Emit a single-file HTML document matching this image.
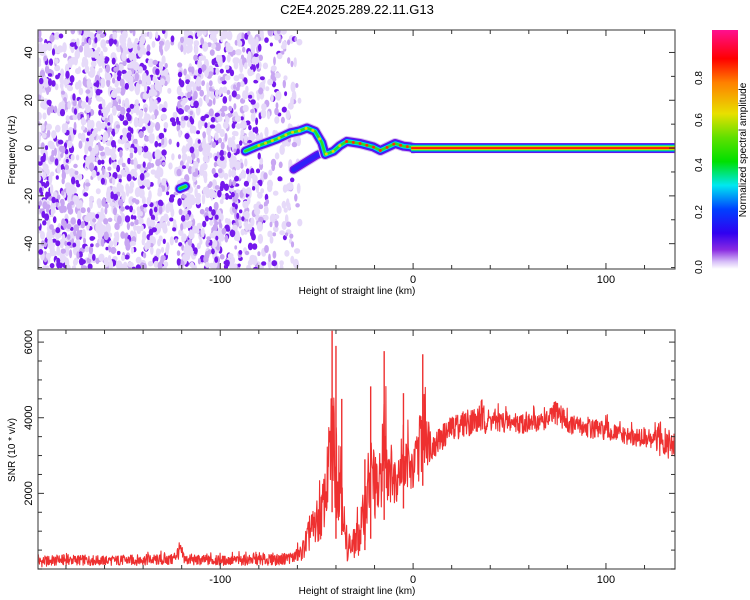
<!DOCTYPE html>
<html><head><meta charset="utf-8"><style>
html,body{margin:0;padding:0;background:#fff;}
svg{display:block;font-family:"Liberation Sans",sans-serif;}
</style></head><body>
<svg id="chart" width="750" height="600" viewBox="0 0 750 600">
<defs>
<linearGradient id="cbar" x1="0" y1="1" x2="0" y2="0">
<stop offset="0" stop-color="#ffffff"/><stop offset="0.03" stop-color="#d8c0f8"/><stop offset="0.08" stop-color="#8a2be2"/>
<stop offset="0.15" stop-color="#3000f0"/><stop offset="0.25" stop-color="#0040ff"/><stop offset="0.35" stop-color="#00e8f0"/>
<stop offset="0.45" stop-color="#00e000"/><stop offset="0.55" stop-color="#60e000"/><stop offset="0.65" stop-color="#e8e000"/>
<stop offset="0.78" stop-color="#ff8000"/><stop offset="0.88" stop-color="#ff0000"/><stop offset="1" stop-color="#ff1090"/>
</linearGradient>
<clipPath id="clipTop"><rect x="38" y="30" width="637" height="239"/></clipPath>
<clipPath id="clipBot"><rect x="38" y="330" width="637" height="239"/></clipPath>
</defs>
<text x="357" y="14" text-anchor="middle" font-size="13">C2E4.2025.289.22.11.G13</text>
<g id="topPanel"></g>
<g id="botPanel"></g>
<rect x="712" y="30" width="26" height="239" fill="url(#cbar)"/>
<g font-size="10" text-anchor="middle">
<text transform="translate(702,267) rotate(-90)">0.0</text>
<text transform="translate(702,212) rotate(-90)">0.2</text>
<text transform="translate(702,165) rotate(-90)">0.4</text>
<text transform="translate(702,120) rotate(-90)">0.6</text>
<text transform="translate(702,78) rotate(-90)">0.8</text>
</g>
<text transform="translate(746,150) rotate(-90)" text-anchor="middle" font-size="10">Normalized spectral amplitude</text>
</svg>
<script>
// ---- data ----
const xDomain = [-194.5, 135.8];
const freqDomain = [-50.6, 49.4];
const snrDomain = [0, 6320];
const xTicks = [-100, 0, 100];
const xTickLabels = ["-100", "0", "100"];
const freqTicks = [-40, -20, 0, 20, 40];
const freqTickLabels = ["-40", "-20", "0", "20", "40"];
const snrTicks = [2000, 4000, 6000];
const snrTickLabels = ["2000", "4000", "6000"];
const ridgeHeights = [-87, -81, -75, -70.6, -63.7, -59, -55, -50.8, -47.3, -45.6, -41.3, -38, -34.4, -27.5, -20.7, -17, -13, -9.3, -5, -1.5, 0, 135];
const ridgeFreqs   = [-1.3, 0.8, 2.5, 3.8, 6.4, 7.2, 8.4, 7, 2.2, -2.7, -1.3, 1, 2.8, 1.9, 0.5, -1, 0.5, 1.9, 0.8, 0.5, 0, 0];
const branchHeights = [-62, -56, -50, -46];
const branchFreqs = [-9, -6, -3, -1.5];
const blobHeights = [-121, -118];
const blobFreqs = [-17, -16];
const snrHeights = [-195,-180,-160,-140,-125,-121,-118,-100,-80,-70,-62,-58,-55,-52,-48,-45,-42,-40,-37,-35,-32,-28,-25,-22,-18,-15,-10,-5,0,5,10,15,20,30,40,50,60,70,75,80,90,100,110,120,125,130,135];
const snrLow  = [0,50,50,50,50,200,50,50,50,50,100,150,200,400,500,1000,1500,800,900,100,100,200,500,800,1000,1300,1500,1600,1800,2200,2800,3000,3300,3400,3500,3500,3500,3600,3700,3500,3400,3300,3200,3100,3000,2700,2900];
const snrHigh = [450,500,450,500,500,900,500,450,500,500,600,800,1500,2000,2500,3500,6300,5900,4500,1200,1200,1800,2900,4830,3200,5760,3400,4650,3500,5680,3900,4100,4300,4600,4500,4400,4300,4400,4800,4300,4200,4100,3900,3900,3900,4500,3600];

// ---- scales ----
const xs = h => 38 + (h - xDomain[0]) / (xDomain[1] - xDomain[0]) * 637;
const yf = f => 269 - (f - freqDomain[0]) / (freqDomain[1] - freqDomain[0]) * 239;
const ysn = v => 569 - (v - snrDomain[0]) / (snrDomain[1] - snrDomain[0]) * 239;
const NS = "http://www.w3.org/2000/svg";
function mk(tag, attrs, parent){const e=document.createElementNS(NS,tag);for(const k in attrs)e.setAttribute(k,attrs[k]);parent.appendChild(e);return e;}
function interp(xa, ya, x){for(let i=0;i<xa.length-1;i++){if(x>=xa[i]&&x<=xa[i+1]){const t=(x-xa[i])/(xa[i+1]-xa[i]);return ya[i]+t*(ya[i+1]-ya[i]);}}return ya[ya.length-1];}
function hash(n){const s=Math.sin(n*12.9898+78.233)*43758.5453;return s-Math.floor(s);}

const topG = document.getElementById('topPanel');
const botG = document.getElementById('botPanel');

// ---- noise background (texture) ----
const noise = mk('g',{'clip-path':'url(#clipTop)'},topG);


let seed = 12345;
function rnd(){seed=(seed*1103515245+12345)%2147483648;return seed/2147483648;}
for(let i=0;i<2700;i++){
  const x = 38 + rnd()*262;
  if (x>168 && x<178 && rnd()<0.8) continue;
  if (x>262 && rnd()<0.6) continue;
  const y = 30 + rnd()*239;
  const r = rnd();
  let col, rx, ry;
  if (r<0.5){col='#e6daf9';rx=1.6+rnd()*1.6;ry=2.5+rnd()*3;}
  else if(r<0.78){col='#c8a6f2';rx=1.4+rnd()*1.4;ry=2+rnd()*2.5;}
  else {col='#7418ec';rx=1.5+rnd()*1.3;ry=1.8+rnd()*2.2;}
  mk('ellipse',{cx:x.toFixed(1),cy:y.toFixed(1),rx:rx.toFixed(1),ry:ry.toFixed(1),fill:col},noise);
}

// ---- ridge ----
function pathFrom(hs, fs){return hs.map((h,i)=>(i?'L':'M')+xs(h).toFixed(1)+','+yf(fs[i]).toFixed(1)).join('');}
const ridge = mk('g',{'clip-path':'url(#clipTop)',fill:'none','stroke-linecap':'round','stroke-linejoin':'round'},topG);


const layers = [['#d6c0f6',11],['#6a10e8',9],['#1a30ff',6.5],['#00d8e8',4.5],['#30e020',2.5]];
const bp = pathFrom(branchHeights, branchFreqs);
[['#d6c0f6',10],['#6a10e8',8],['#3020f8',5]].forEach(([c,w])=>mk('path',{d:bp,stroke:c,'stroke-width':w},ridge));
const cp = pathFrom(ridgeHeights.slice(0,-1), ridgeFreqs.slice(0,-1));
layers.forEach(([c,w])=>mk('path',{d:cp,stroke:c,'stroke-width':w},ridge));
const bl = pathFrom(blobHeights, blobFreqs);
layers.forEach(([c,w])=>mk('path',{d:bl,stroke:c,'stroke-width':w},ridge));
const fband = [['#6a10e8',10],['#1a30ff',8],['#00d8e8',6.5],['#30e020',5],['#e8e000',3.5],['#ff2000',2]];
const x0 = xs(0), x1 = xs(xDomain[1]);
fband.forEach(([c,w])=>mk('rect',{x:x0-2,y:yf(0)-w/2,width:x1-x0+2,height:w,fill:c},ridge));
for(let h=-80;h<0;h+=3.5){
  const f = interp(ridgeHeights, ridgeFreqs, h);
  mk('circle',{cx:xs(h),cy:yf(f),r:1.5,fill:(h>-35?'#ff3000':'#e8d000')},ridge);
}

// ---- axes helper ----
function frame(g, y0, y1, yTicks, yLabels, yScale, yMinorStep, yDom, xLabelY){
  mk('rect',{x:38,y:y0,width:637,height:y1-y0,fill:'none',stroke:'#555','stroke-width':1.2},g);
  const t = mk('g',{stroke:'#333','stroke-width':1},g);
  for(let h=-180;h<=130;h+=20){
    const x=xs(h), L=(h%100===0)?6:4;
    mk('line',{x1:x,y1:y1,x2:x,y2:y1-L},t); mk('line',{x1:x,y1:y0,x2:x,y2:y0+L},t);
  }
  for(let v=Math.ceil(yDom[0]/yMinorStep)*yMinorStep; v<=yDom[1]; v+=yMinorStep){
    const y=yScale(v), L=yTicks.includes(v)?6:4;
    mk('line',{x1:38,y1:y,x2:38+L,y2:y},t); mk('line',{x1:675,y1:y,x2:675-L,y2:y},t);
  }
  xTicks.forEach((h,i)=>{const e=mk('text',{x:xs(h),y:xLabelY,'text-anchor':'middle','font-size':11},g);e.textContent=xTickLabels[i];});
  yTicks.forEach((v,i)=>{const e=mk('text',{transform:`translate(32,${yScale(v)}) rotate(-90)`,'text-anchor':'middle','font-size':11},g);e.textContent=yLabels[i];});
}
const topAx = mk('g',{},topG);


frame(topAx,30,269,freqTicks,freqTickLabels,yf,10,freqDomain,283);
const tx = mk('text',{x:357,y:294,'text-anchor':'middle','font-size':10},topAx);
tx.textContent='Height of straight line (km)';


const ty = mk('text',{transform:'translate(15,150) rotate(-90)','text-anchor':'middle','font-size':10},topAx);
ty.textContent='Frequency (Hz)';



// ---- SNR line ----
const lineG = mk('g',{'clip-path':'url(#clipBot)'},botG);


let d='';
let k=0;
for(let h=xDomain[0]; h<=xDomain[1]; h+=0.2, k++){
  const lo = interp(snrHeights, snrLow, h), hi = interp(snrHeights, snrHigh, h);
  const a = hash(k), b = hash(k+1000);
  const v = lo + (hi-lo) * (0.1 + 0.65*a + (b>0.93 ? 0.25*b : 0));
  d += (k?'L':'M') + xs(h).toFixed(1) + ',' + ysn(Math.min(Math.max(v,0),snrDomain[1])).toFixed(1);
}
mk('path',{d:d,fill:'none',stroke:'#ee3030','stroke-width':1.1,'stroke-linejoin':'round'},lineG);
snrHeights.forEach((h,i)=>{
  if (snrHigh[i] > snrLow[i] + 2200 && h>-45 && h<10){
    mk('line',{x1:xs(h),y1:ysn(snrLow[i]),x2:xs(h),y2:ysn(snrHigh[i]),stroke:'#ee3030','stroke-width':1.4},lineG);
  }
});

const botAx = mk('g',{},botG);


frame(botAx,330,569,snrTicks,snrTickLabels,ysn,500,snrDomain,583);
const bx = mk('text',{x:357,y:594,'text-anchor':'middle','font-size':10},botAx);
bx.textContent='Height of straight line (km)';


const by = mk('text',{transform:'translate(15,450) rotate(-90)','text-anchor':'middle','font-size':10},botAx);
by.textContent='SNR (10 * v/v)';


</script>
</body></html>
